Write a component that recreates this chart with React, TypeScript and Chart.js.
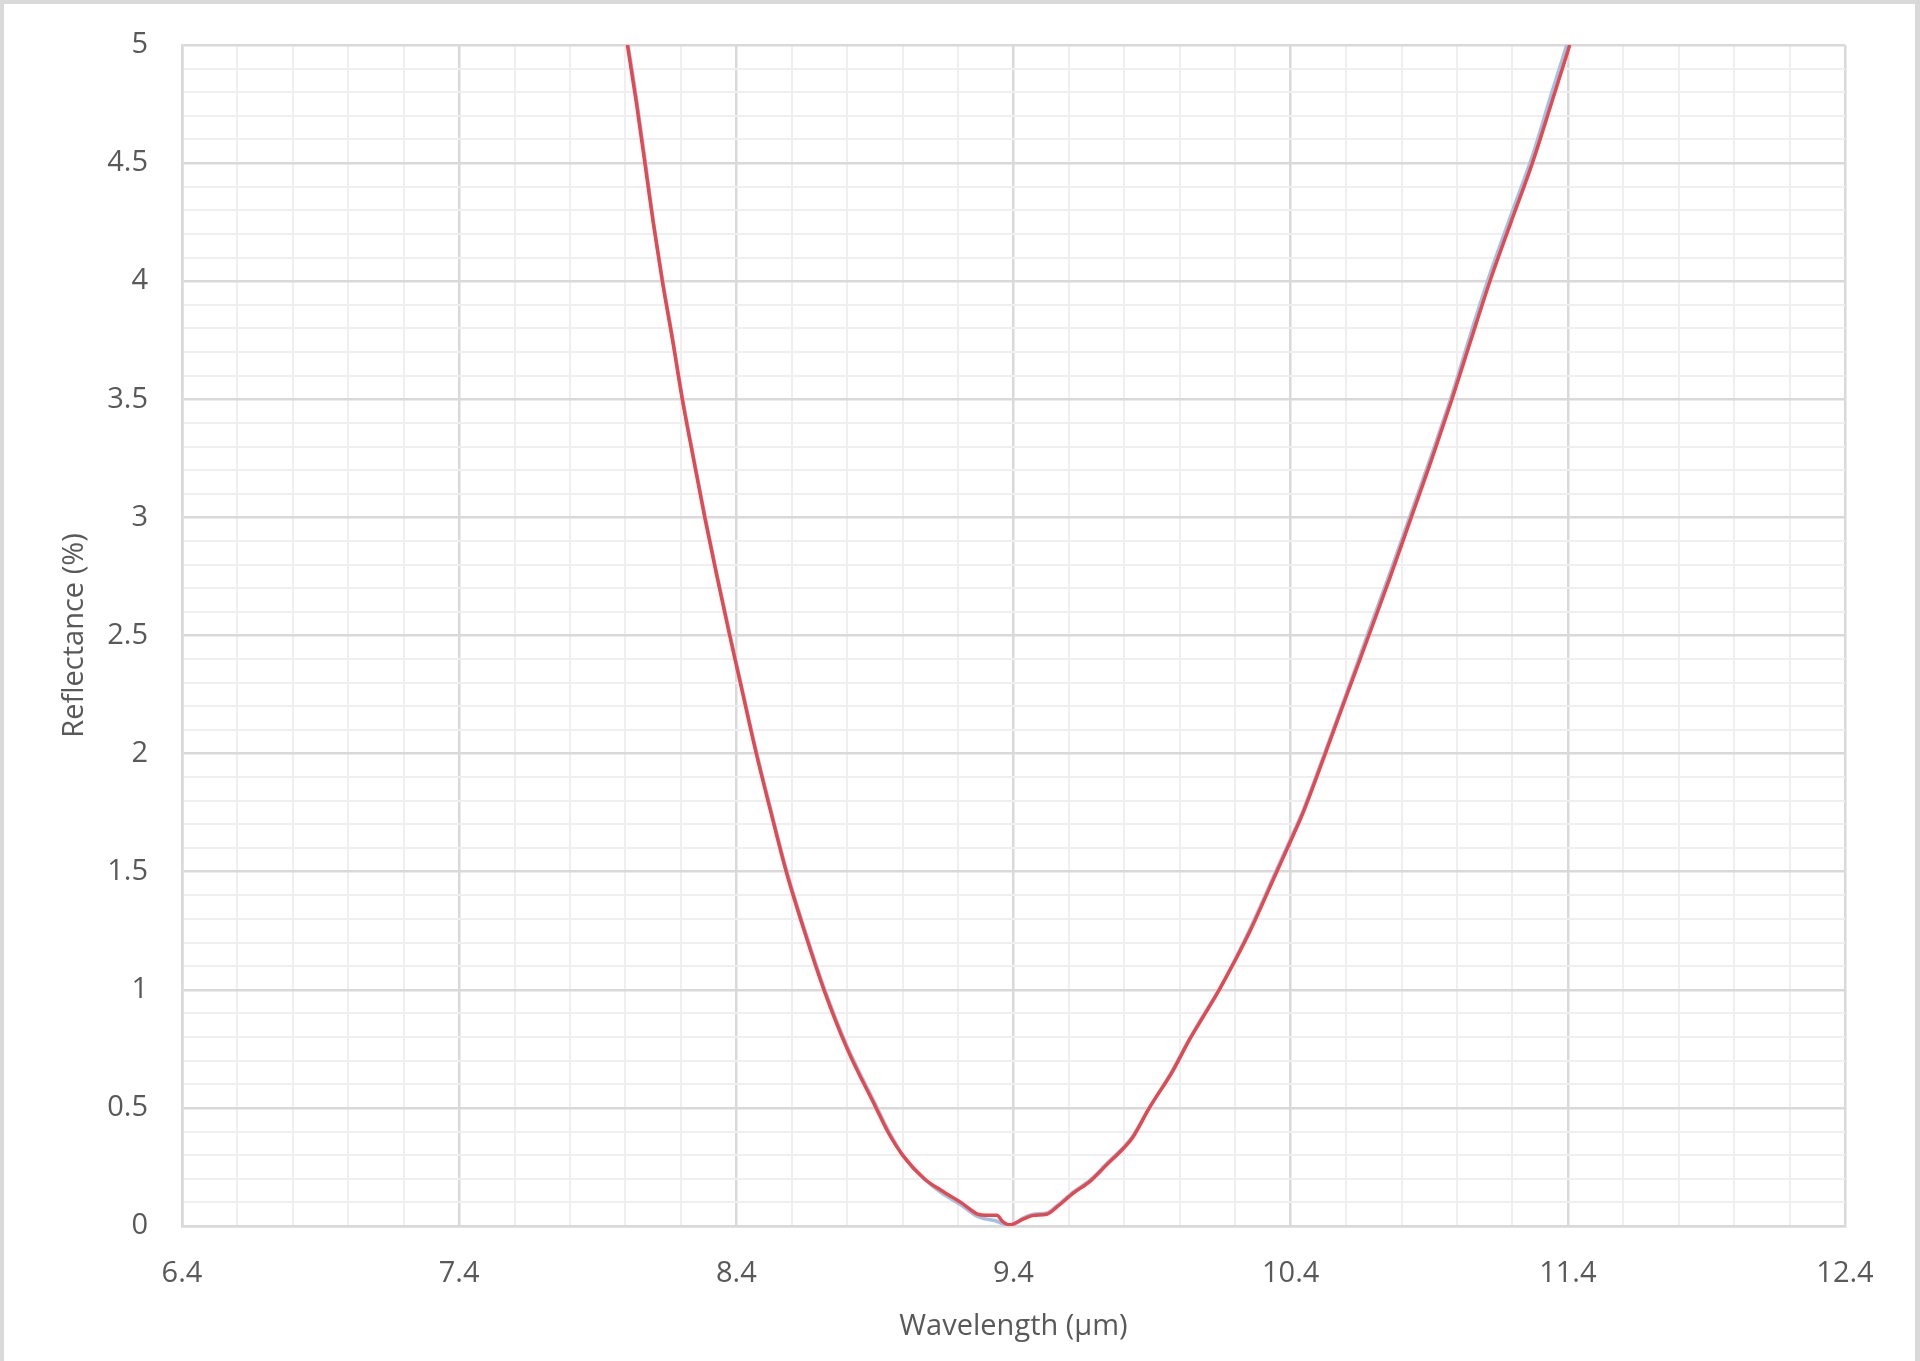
import React, { useEffect, useRef } from "react";
import { Chart, registerables } from "chart.js";

Chart.register(...registerables);

// Wavelength (µm) sample positions
const wavelengths = [
  8.007, 8.04, 8.07, 8.1, 8.133, 8.17, 8.205, 8.245, 8.286, 8.33, 8.376, 8.42, 8.472, 8.525, 8.58,
  8.645, 8.716, 8.8, 8.904, 8.946, 9.0, 9.078, 9.14, 9.21, 9.27, 9.3, 9.34, 9.36, 9.387, 9.436,
  9.472, 9.52, 9.556, 9.617, 9.677, 9.737, 9.798, 9.83, 9.89, 9.974, 10.034, 10.094, 10.142, 10.2,
  10.254, 10.35, 10.4, 10.445, 10.525, 10.603, 10.682, 10.76, 10.835, 10.91, 10.982, 11.05, 11.119,
  11.195, 11.272, 11.34, 11.407,
];

// Measured reflectance (%) – red trace
const reflectanceRed = [
  5.0, 4.75, 4.5, 4.25, 4.0, 3.75, 3.5, 3.25, 3.0, 2.75, 2.5, 2.27, 2.0, 1.75, 1.5,
  1.25, 1.0, 0.75, 0.5, 0.4, 0.3, 0.2, 0.15, 0.1, 0.05, 0.045, 0.045, 0.02, 0.005, 0.03,
  0.045, 0.05, 0.08, 0.14, 0.19, 0.26, 0.33, 0.375, 0.5, 0.655, 0.787, 0.904, 1.0, 1.125,
  1.25, 1.5, 1.63, 1.75, 2.0, 2.25, 2.5, 2.75, 3.0, 3.25, 3.5, 3.75, 4.0,
  4.25, 4.5, 4.75, 5.0,
];

// Reflectance (%) – blue trace (almost hidden under red)
const reflectanceBlue = [
  5.02, 4.77, 4.52, 4.26, 4.01, 3.76, 3.51, 3.26, 3.01, 2.76, 2.51, 2.28, 2.01, 1.76, 1.51,
  1.26, 1.01, 0.76, 0.51, 0.41, 0.3, 0.2, 0.14, 0.09, 0.04, 0.03, 0.02, 0.01, 0.0, 0.035,
  0.05, 0.055, 0.085, 0.145, 0.195, 0.265, 0.335, 0.38, 0.5, 0.66, 0.79, 0.91, 1.0, 1.13,
  1.26, 1.51, 1.64, 1.76, 2.01, 2.26, 2.52, 2.77, 3.02, 3.27, 3.52, 3.78, 4.03,
  4.28, 4.53, 4.79, 5.04,
];

const xMajorTicks = [6.4, 7.4, 8.4, 9.4, 10.4, 11.4, 12.4];
const xTickLabels = ["6.4", "7.4", "8.4", "9.4", "10.4", "11.4", "12.4"];
const yMajorTicks = [0, 0.5, 1, 1.5, 2, 2.5, 3, 3.5, 4, 4.5, 5];
const yTickLabels = ["0", "0.5", "1", "1.5", "2", "2.5", "3", "3.5", "4", "4.5", "5"];

const X_MIN = 6.4, X_MAX = 12.4, X_MINOR = 0.2;
const Y_MIN = 0, Y_MAX = 5, Y_MINOR = 0.1;

const W = 1920, H = 1361;
const MAJOR_GRID = "#d9d9d9";
const MINOR_GRID = "#efefef";
const TEXT = "#595959";
const FONT = "'Open Sans', 'Liberation Sans', sans-serif";

function majorIndex(list: number[], v: number) {
  return list.findIndex((m) => Math.abs(m - v) < 1e-6);
}

function buildTicks(min: number, max: number, step: number) {
  const n = Math.round((max - min) / step);
  const out: { value: number }[] = [];
  for (let i = 0; i <= n; i++) out.push({ value: Math.round((min + i * step) * 1000) / 1000 });
  return out;
}

export default function App() {
  const ref = useRef<HTMLCanvasElement | null>(null);

  useEffect(() => {
    if (!ref.current) return;
    const red = wavelengths.map((x, i) => ({ x, y: reflectanceRed[i] }));
    const blue = wavelengths.map((x, i) => ({ x, y: reflectanceBlue[i] }));
    const chart = new Chart(ref.current, {
      type: "line",
      data: {
        datasets: [
          {
            label: "Red",
            data: red,
            borderColor: "#e5484f",
            borderWidth: 3.5,
            pointRadius: 0,
            cubicInterpolationMode: "monotone",
            order: 0,
          },
          {
            label: "Blue",
            data: blue,
            borderColor: "#9dc3e6",
            borderWidth: 3.5,
            pointRadius: 0,
            cubicInterpolationMode: "monotone",
            order: 1,
          },
        ],
      },
      options: {
        responsive: false,
        animation: false,
        devicePixelRatio: 1,
        layout: { padding: { top: 45, right: 75, left: 0, bottom: 0 } },
        plugins: { legend: { display: false }, tooltip: { enabled: false } },
        scales: {
          x: {
            type: "linear",
            min: X_MIN,
            max: X_MAX,
            afterBuildTicks: (s: any) => {
              s.ticks = buildTicks(X_MIN, X_MAX, X_MINOR);
            },
            afterFit: (s: any) => {
              s.height = 135;
              s.paddingLeft = 0;
              s.paddingRight = 0;
            },
            ticks: {
              autoSkip: false,
              maxRotation: 0,
              padding: 30,
              color: TEXT,
              font: { family: FONT, size: 29 },
              callback: (v: any) => {
                const i = majorIndex(xMajorTicks, Number(v));
                return i >= 0 ? xTickLabels[i] : "";
              },
            },
            grid: {
              drawTicks: false,
              color: (ctx: any) =>
                majorIndex(xMajorTicks, ctx.tick?.value) >= 0 ? MAJOR_GRID : MINOR_GRID,
              lineWidth: (ctx: any) => (majorIndex(xMajorTicks, ctx.tick?.value) >= 0 ? 2.5 : 2),
            },
            border: { display: true, color: MAJOR_GRID, width: 2.5 },
            title: {
              display: true,
              text: "Wavelength (µm)",
              color: TEXT,
              font: { family: FONT, size: 29 },
              padding: { top: 0, bottom: 17 },
            },
          },
          y: {
            type: "linear",
            min: Y_MIN,
            max: Y_MAX,
            afterBuildTicks: (s: any) => {
              s.ticks = buildTicks(Y_MIN, Y_MAX, Y_MINOR);
            },
            afterFit: (s: any) => {
              s.width = 182;
              s.paddingTop = 0;
              s.paddingBottom = 0;
            },
            ticks: {
              autoSkip: false,
              padding: 34,
              color: TEXT,
              font: { family: FONT, size: 29 },
              callback: (v: any) => {
                const i = majorIndex(yMajorTicks, Number(v));
                return i >= 0 ? yTickLabels[i] : "";
              },
            },
            grid: {
              drawTicks: false,
              color: (ctx: any) =>
                majorIndex(yMajorTicks, ctx.tick?.value) >= 0 ? MAJOR_GRID : MINOR_GRID,
              lineWidth: (ctx: any) => (majorIndex(yMajorTicks, ctx.tick?.value) >= 0 ? 2.5 : 2),
            },
            border: { display: true, color: MAJOR_GRID, width: 2.5 },
            title: {
              display: true,
              text: "Reflectance (%)",
              color: TEXT,
              font: { family: FONT, size: 29 },
              padding: { top: 57, bottom: 0 },
            },
          },
        },
      },
    } as any);
    return () => chart.destroy();
  }, []);

  return (
    <div
      style={{
        position: "absolute",
        left: 0,
        top: 0,
        width: W,
        height: H,
        background: "#ffffff",
        overflow: "hidden",
      }}
    >
      <canvas ref={ref} width={W} height={H} style={{ position: "absolute", left: 0, top: 0, width: W, height: H }} />
      <div
        style={{
          position: "absolute",
          left: 0,
          top: 0,
          width: W,
          height: H,
          boxSizing: "border-box",
          borderLeft: "4px solid #d9d9d9",
          borderTop: "4px solid #d9d9d9",
          borderRight: "5px solid #d9d9d9",
          pointerEvents: "none",
        }}
      />
    </div>
  );
}
